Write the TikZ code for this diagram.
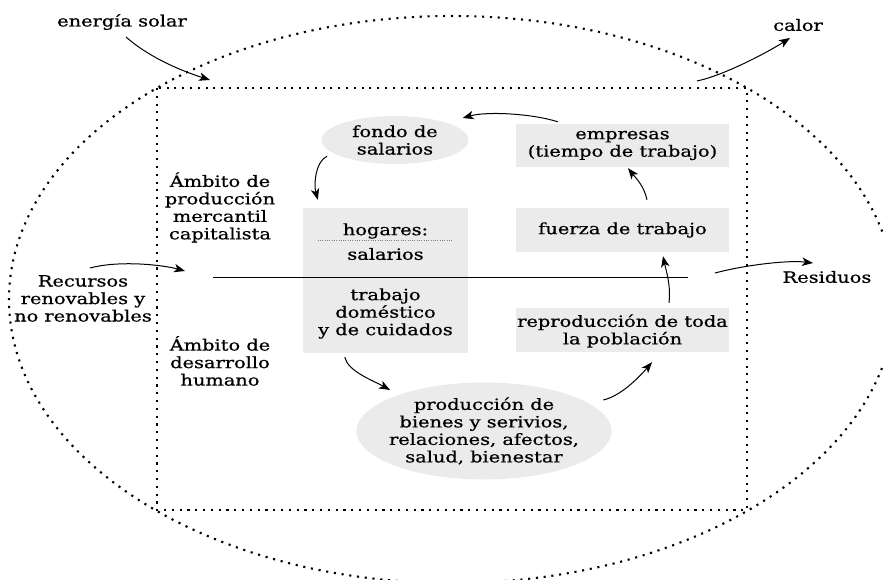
\documentclass[tikz,border=0pt]{standalone}
\usepackage{fontspec}
\setmainfont{DejaVu Serif}[FakeStretch=1.25,FakeBold=0.7]
\usetikzlibrary{arrows.meta,calc,shapes.geometric}
\definecolor{boxgray}{HTML}{EBEBEB}
\begin{document}
\begin{tikzpicture}[x=1pt,y=-1pt,
  txt/.style={font=\fontsize{15.5}{17.5}\selectfont, align=center, inner sep=0pt},
  box/.style={fill=boxgray, inner sep=0pt},
  arr/.style={-{Stealth[length=11pt,width=8.5pt,inset=3pt]}, line width=1pt},
  dots/.style={line width=2.1pt, dash pattern=on 2.1pt off 5.7pt}
]
\useasboundingbox (0,0) rectangle (883,580);
% outer ellipse and inner dotted rectangle
\draw[dots] (452,299.5) ellipse [x radius=443, y radius=283.5];
\draw[dots] (157,88) rectangle (747,510);

% gray shapes
\node[box, ellipse, minimum width=147pt, minimum height=48pt] (fondo) at (395,140) {};
\node[box, minimum width=213pt, minimum height=43pt] (empresas) at (622.5,145.5) {};
\node[box, minimum width=213pt, minimum height=44pt] (fuerza) at (622.5,230) {};
\node[box, minimum width=213pt, minimum height=44pt] (reprod) at (622.5,330) {};
\node[box, minimum width=165pt, minimum height=145pt] (hogares) at (385.5,280.5) {};
\node[box, ellipse, minimum width=255pt, minimum height=97pt] (prod) at (484,431) {};

% texts
\node[txt] (energia) at (122,22) {energía solar};
\node[txt] (calor) at (798,25) {calor};
\node[txt] (fondotxt) at (fondo.center) {fondo de\\salarios};
\node[txt] (empresastxt) at (empresas.center) {empresas\\(tiempo de trabajo)};
\node[txt] (fuerzatxt) at (fuerza.center) {fuerza de trabajo};
\node[txt] (reprodtxt) at (622.5,331) {reproducción de toda\\la población};
\node[txt] (ambito1) at (220,207.5) {Ámbito de\\producción\\mercantil\\capitalista};
\node[txt] (ambito2) at (220,361) {Ámbito de\\desarrollo\\humano};
\node[txt] (recursos) at (83,298.5) {Recursos\\renovables y\\no renovables};
\node[txt] (residuos) at (827,277) {Residuos};
\node[txt] (hog1) at (385.5,231) {hogares:};
\node[txt] (hog2) at (385.5,254) {salarios};
\node[txt] (hog3) at (385.5,313.5) {trabajo\\doméstico\\y de cuidados};
\node[txt] (prodtxt) at (prod.center) {producción de\\bienes y serivios,\\relaciones, afectos,\\salud, bienestar};

% separator inside hogares box
\draw[gray, line width=0.7pt, dash pattern=on 0.9pt off 1.4pt]
  ($(hogares.north west)+(15,33)$) -- ($(hogares.north east)+(-15,33)$);

% horizontal divider
\coordinate (hlL) at (213,277);
\coordinate (hlR) at (688,277);
\draw[line width=1pt] (hlL) -- (hlR);

% free ends
\coordinate (solarin) at (210,80);
\coordinate (calorout) at (697,81);
\coordinate (recin) at (185,271);
\coordinate (resout) at (715,273);

% arrows
\draw[arr] ($(energia.center)+(4,15)$) .. controls +(25,22) and +(-25,-8) .. (solarin);
\draw[arr] (calorout) .. controls +(28,-6) and +(-22,14) .. ($(calor.center)+(-8,13)$);
\draw[arr] ($(recursos.center)+(7,-30.5)$) .. controls +(30,-8) and +(-22,-6) .. (recin);
\draw[arr] (resout) .. controls +(30,-8) and +(-25,-3) .. ($(residuos.center)+(-14,-14)$);

\draw[arr] ($(empresas.north west)+(42,-2)$) .. controls +(-25,-8) and +(25,-7) .. ($(fondo.east)+(-6,-22)$);
\draw[arr] ($(fondo.south)+(-68,-8)$) .. controls +(-12,6) and +(-4,-15) .. ($(hogares.north west)+(15,-8)$);
\draw[arr] ($(hogares.south west)+(42,4)$) .. controls +(3,14) and +(-18,-10) .. ($(prod.center)+(-94,-41)$);
\draw[arr] ($(prod.east)+(-8.5,-31)$) .. controls +(18,-4) and +(-12,14) .. ($(reprod.south)+(29.5,10)$);
\draw[arr] ($(reprod.north)+(46.5,-5)$) .. controls +(2,-18) and +(3,14) .. ($(fuerza.south)+(40.5,4)$);
\draw[arr] ($(fuerza.north)+(24.5,-8)$) .. controls +(-3,-14) and +(8,10) .. ($(empresas.south)+(5.5,1)$);
\end{tikzpicture}
\end{document}
